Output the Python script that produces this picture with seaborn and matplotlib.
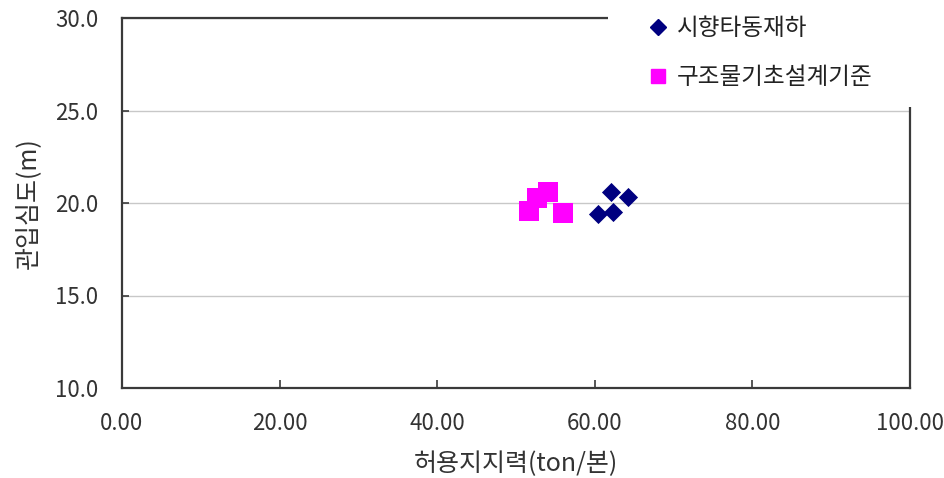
import matplotlib
matplotlib.use('Agg')
import matplotlib.pyplot as plt
import matplotlib.patches as mpatches
from matplotlib.lines import Line2D
import pandas as pd
import seaborn as sns

# ---- 데이터 ----
load_test_x = [60.4, 62.1, 62.3, 64.2]          # 시향타동재하
load_test_y = [19.4, 20.6, 19.5, 20.3]
design_x = [51.7, 52.7, 54.0, 56.0]             # 구조물기초설계기준
design_y = [19.57, 20.25, 20.58, 19.44]
labels = ['시향타동재하', '구조물기초설계기준']
x_ticks = [0, 20, 40, 60, 80, 100]
y_ticks = [10, 15, 20, 25, 30]

sns.set_style('white')
plt.rcParams['font.family'] = ['Noto Sans CJK KR', 'DejaVu Sans']

df1 = pd.DataFrame({'x': load_test_x, 'y': load_test_y})
df2 = pd.DataFrame({'x': design_x, 'y': design_y})

fig = plt.figure(figsize=(9.45, 4.78), dpi=100)
ax = fig.add_axes([122 / 945, 1 - 388 / 478, (910 - 122) / 945, (388 - 18) / 478])

sns.scatterplot(data=df1, x='x', y='y', ax=ax, marker='D', color='#000080',
                s=95, linewidth=0, zorder=4, legend=False)
sns.scatterplot(data=df2, x='x', y='y', ax=ax, marker='s', color='#FF00FF',
                s=190, linewidth=0, zorder=3, legend=False)

ax.set_xlim(0, 100)
ax.set_ylim(10, 30)
ax.set_xticks(x_ticks)
ax.set_yticks(y_ticks)
ax.set_xticklabels([f'{v:.2f}' for v in x_ticks])
ax.set_yticklabels([f'{v:.1f}' for v in y_ticks])
ax.tick_params(axis='both', direction='in', labelsize=16, labelcolor='#333333',
               color='#3a3a3a', width=1.2, bottom=True, left=True,
               top=False, right=False)
ax.tick_params(axis='x', length=6, pad=17)
ax.tick_params(axis='y', length=5, pad=17)
ax.yaxis.grid(True, color='#c8c8c8', linewidth=1)
ax.xaxis.grid(False)
ax.set_axisbelow(True)
for sp in ax.spines.values():
    sp.set_color('#3a3a3a')
    sp.set_linewidth(1.6)
    sp.set_visible(True)

ax.set_xlabel('허용지지력(ton/본)', fontsize=18, color='#333333', labelpad=12)
ax.set_ylabel('관입심도(m)', fontsize=18, color='#333333', labelpad=10)

# 범례 영역 흰 배경 (원본처럼 테두리 일부를 가림)
cover = mpatches.Rectangle((608 / 945, 1 - 107 / 478), 1, 1, transform=fig.transFigure,
                           facecolor='white', edgecolor='none', clip_on=False, zorder=10)
ax.add_artist(cover)

handles = [
    Line2D([], [], marker='D', color='#000080', linestyle='none', markersize=8),
    Line2D([], [], marker='s', color='#FF00FF', linestyle='none', markersize=9.5),
]
leg = ax.legend(handles, labels, loc='upper left', bbox_to_anchor=(634 / 945, 1 - 5 / 478),
                bbox_transform=fig.transFigure, frameon=False, fontsize=17,
                borderpad=0, labelspacing=1.1, handlelength=1.0, handletextpad=0.3,
                labelcolor='#222222')
leg.set_zorder(11)

fig.savefig('out.png', dpi=100)
